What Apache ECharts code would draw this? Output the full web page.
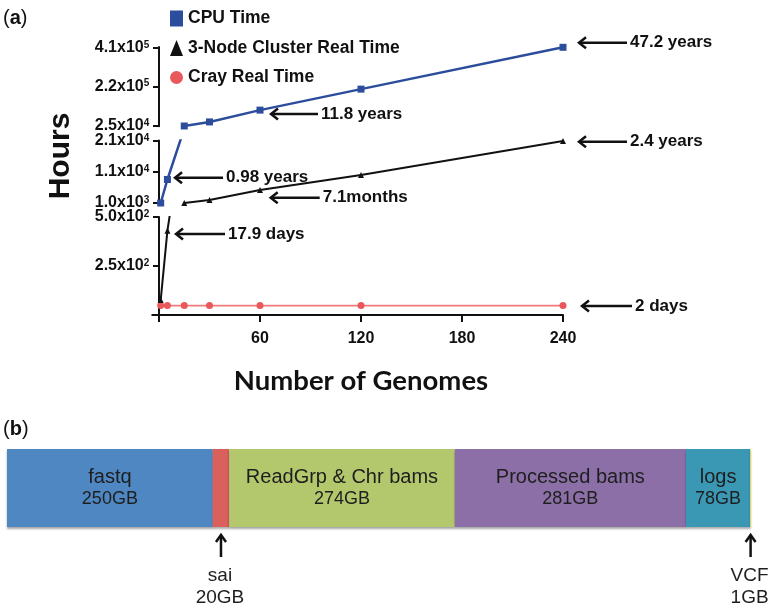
<!DOCTYPE html>
<html><head><meta charset="utf-8">
<script src="https://cdn.jsdelivr.net/npm/echarts@6/dist/echarts.min.js"></script>
<style>html,body{margin:0;padding:0;background:#fff}#c{width:780px;height:613px}</style>
</head><body><div id="c"></div>
<script>
// ---------- data ----------
const genomes = [1, 5, 15, 30, 60, 120, 240];
const cpuHours = [1000, 8585, 25000, 45000, 103368, 207000, 413472];
const clusterHours = [76, 430, 1000, 2000, 5183, 10000, 21024];
const crayHours = [48, 48, 48, 48, 48, 48, 48];
const seriesNames = ['CPU Time', '3-Node Cluster Real Time', 'Cray Real Time'];
const xTickValues = [0, 60, 120, 180, 240];
const xLabelValues = [60, 120, 180, 240];
const yTickValues = [[250, 500], [1000, 11000, 21000], [25000, 220000, 410000]];
const yTickLabels = [['2.5x10^2', '5.0x10^2'], ['1.0x10^3', '1.1x10^4', '2.1x10^4'], ['2.5x10^4', '2.2x10^5', '4.1x10^5']];
const noteTexts = ['47.2 years', '11.8 years', '0.98 years', '2.4 years', '7.1months', '17.9 days', '2 days'];
const noteSeries = [0, 0, 0, 1, 1, 1, 2];
const noteIndex = [6, 4, 1, 6, 4, 1, 6];
const storageNames = ['fastq', 'sai', 'ReadGrp & Chr bams', 'Processed bams', 'logs', 'VCF'];
const storageGB = [250, 20, 274, 281, 78, 1];
const storageInside = [true, false, true, true, true, false];

// ---------- layout / style ----------
const FONT = '"Liberation Sans", Arial, sans-serif';
const segs = [
  {min: 0, max: 500, top: 217, height: 98},
  {min: 900, max: 21200, top: 140.38, height: 62.93},
  {min: 24000, max: 415000, top: 46.99, height: 79.2}
];
const plotLeft = 152.27, plotWidth = 410.73, xMin = -4, xMax = 240;
const seriesStyle = [
  {line: '#2c4d9c', item: '#2c4d9c', width: 2.5, symbol: 'rect', size: 7},
  {line: '#111111', item: '#111111', width: 2, symbol: 'triangle', size: 6},
  {line: '#f07b7b', item: '#e9585a', width: 1.6, symbol: 'circle', size: 7}
];
const seriesData = [cpuHours, clusterHours, crayHours];
// arrow tip offset from point (dx, dy) and arrow length
const noteLayout = [[16, -4.6, 48], [11, 3.9, 47], [7.6, -1.8, 48], [16, 0.8, 48], [10.7, 7.7, 49], [8.6, 3.3, 49], [19, 0.4, 50]];
const barColors = ['#4f87c2', '#d9605c', '#b3c76d', '#8b6fa6', '#3a98b4', '#e8e050'];

function supRich(label) {
  const p = label.split('^');
  return '{b|' + p[0] + '}{s|' + p[1] + '}';
}

const chart = echarts.init(document.getElementById('c'));
const grids = [], xAxes = [], yAxes = [], series = [];
segs.forEach((s, g) => {
  grids.push({left: plotLeft, width: plotWidth, top: s.top, height: s.height});
  xAxes.push({
    type: 'value', gridIndex: g, min: xMin, max: xMax, show: g === 0,
    axisLine: {onZero: true, lineStyle: {color: '#111', width: 2}},
    axisTick: {show: true, customValues: xTickValues, length: 7, lineStyle: {color: '#111', width: 2}},
    axisLabel: {customValues: xLabelValues, fontSize: 16, fontWeight: 'bold', fontFamily: FONT, color: '#111', margin: 16},
    splitLine: {show: false}
  });
  yAxes.push({
    type: 'value', gridIndex: g, min: s.min, max: s.max,
    axisLine: {show: true, onZero: true, lineStyle: {color: '#111', width: 2}},
    axisTick: {show: true, length: 6, customValues: yTickValues[g], lineStyle: {color: '#111', width: 2}},
    axisLabel: {
      customValues: yTickValues[g], margin: 3, fontSize: 16, fontWeight: 'bold', fontFamily: FONT, color: '#111',
      formatter: function (v) {
        const i = yTickValues[g].indexOf(v);
        return i < 0 ? '' : supRich(yTickLabels[g][i]);
      },
      rich: {
        b: {fontSize: 16, fontWeight: 'bold', fontFamily: FONT, color: '#111', lineHeight: 16},
        s: {fontSize: 10, fontWeight: 'bold', fontFamily: FONT, color: '#111', verticalAlign: 'top'}
      }
    },
    splitLine: {show: false}
  });
  seriesData.forEach((d, k) => {
    // only points at or above this segment's floor are drawn here (lines leaving upward are clipped)
    const pts = genomes.map((x, i) => [x, d[i] >= s.min ? d[i] : '-']);
    if (!d.some(v => v >= s.min && v <= s.max)) return;
    const st = seriesStyle[k];
    series.push({
      type: 'line', name: seriesNames[k], xAxisIndex: g, yAxisIndex: g,
      data: pts,
      symbol: st.symbol, symbolSize: st.size, showAllSymbol: true,
      lineStyle: {color: st.line, width: st.width},
      itemStyle: {color: st.item},
      clip: true, z: 5 - k
    });
  });
});

// bottom stacked bar (b)
grids.push({left: 7, top: 449, width: 744, height: 78});
xAxes.push({type: 'value', gridIndex: 3, min: 0, max: storageGB.reduce((a, b) => a + b, 0), show: false});
yAxes.push({type: 'category', gridIndex: 3, data: ['storage'], show: false});
storageNames.forEach((n, i) => {
  series.push({
    type: 'bar', name: n, stack: 'storage', xAxisIndex: 3, yAxisIndex: 3,
    data: [storageGB[i]], barWidth: '100%',
    itemStyle: {color: barColors[i], shadowColor: 'rgba(0,0,0,0.35)', shadowOffsetY: 1.5, shadowBlur: 2},
    label: {
      show: storageInside[i], position: 'inside',
      formatter: '{n|' + n + '}\n{v|' + storageGB[i] + 'GB}',
      rich: {
        n: {fontSize: 20, lineHeight: 22, color: '#1e1e1e', fontFamily: FONT},
        v: {fontSize: 18, lineHeight: 22, color: '#1e1e1e', fontFamily: FONT}
      }
    }
  });
});

chart.setOption({
  animation: false,
  backgroundColor: '#fff',
  legend: {
    data: [{name: seriesNames[0], icon: 'rect'}, {name: seriesNames[1], icon: 'triangle'}, {name: seriesNames[2], icon: 'circle'}],
    orient: 'vertical', left: 170, top: 9.5, padding: 0, itemWidth: 13, itemHeight: 16, itemGap: 11.5,
    selectedMode: false,
    textStyle: {fontSize: 17.5, fontWeight: 'bold', fontFamily: FONT, color: '#111'}
  },
  grid: grids, xAxis: xAxes, yAxis: yAxes, series: series
});

// ---------- annotations ----------
function gridOf(v) {
  for (let g = 0; g < segs.length; g++) if (v >= segs[g].min && v <= segs[g].max) return g;
  return 0;
}
const gfx = [];
function leftArrow(tx, ty, len, text) {
  gfx.push({type: 'line', shape: {x1: tx + 1, y1: ty, x2: tx + len, y2: ty}, style: {stroke: '#111', lineWidth: 2.5}});
  gfx.push({type: 'polyline', shape: {points: [[tx + 7, ty - 5.5], [tx, ty], [tx + 7, ty + 5.5]]}, style: {stroke: '#111', lineWidth: 2.5, fill: null}});
  gfx.push({type: 'text', x: tx + len + 3, y: ty, style: {text: text, font: 'bold 17px ' + FONT, fill: '#111', textVerticalAlign: 'middle', textAlign: 'left'}});
}
function upArrow(tx, ty, len, name, size) {
  gfx.push({type: 'line', shape: {x1: tx, y1: ty + 1, x2: tx, y2: ty + len}, style: {stroke: '#111', lineWidth: 2.5}});
  gfx.push({type: 'polyline', shape: {points: [[tx - 5, ty + 7], [tx, ty], [tx + 5, ty + 7]]}, style: {stroke: '#111', lineWidth: 2.5, fill: null}});
  gfx.push({type: 'text', x: tx - 1, y: ty + len + 19, style: {text: name, font: '19px ' + FONT, fill: '#1e1e1e', textVerticalAlign: 'middle', textAlign: 'center'}});
  gfx.push({type: 'text', x: tx - 1, y: ty + len + 41, style: {text: size, font: '19px ' + FONT, fill: '#1e1e1e', textVerticalAlign: 'middle', textAlign: 'center'}});
}
noteTexts.forEach((t, j) => {
  const k = noteSeries[j], i = noteIndex[j];
  const v = seriesData[k][i];
  const p = chart.convertToPixel({gridIndex: gridOf(v)}, [genomes[i], v]);
  const L = noteLayout[j];
  leftArrow(p[0] + L[0], p[1] + L[1], L[2], t);
});
let cum = 0;
storageNames.forEach((n, i) => {
  const mid = cum + storageGB[i] / 2;
  cum += storageGB[i];
  if (!storageInside[i]) {
    const p = chart.convertToPixel({gridIndex: 3}, [mid, 0]);
    upArrow(p[0], 535, 22, n, storageGB[i] + 'GB');
  }
});
gfx.push({type: 'text', x: 61, y: 156, rotation: Math.PI / 2, style: {text: 'Hours', font: 'bold 30px ' + FONT, fill: '#111', textAlign: 'center', textVerticalAlign: 'middle'}});
gfx.push({type: 'text', x: 361, y: 381, style: {text: 'Number of Genomes', font: 'bold 27.5px Lato, "Open Sans", sans-serif', fill: '#111', textAlign: 'center', textVerticalAlign: 'middle'}});
['a', 'b'].forEach((c, j) => {
  gfx.push({type: 'text', x: 3, y: j === 0 ? 18 : 429, style: {
    text: '{p|(}{q|' + c + '}{p|)}', textVerticalAlign: 'middle',
    rich: {p: {font: '20px ' + FONT, fill: '#111'}, q: {font: 'bold 20px ' + FONT, fill: '#111'}}
  }});
});
chart.setOption({graphic: gfx});
</script>
</body></html>
